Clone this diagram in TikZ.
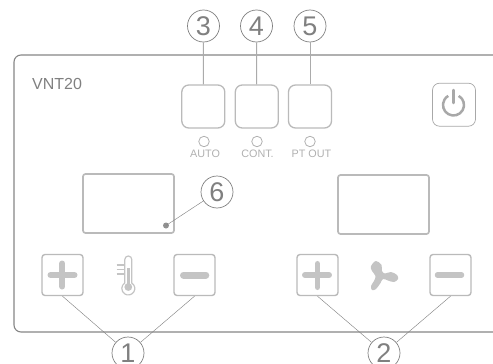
\documentclass[tikz,border=0pt]{standalone}
\usepackage{fontspec}
\setmainfont{Liberation Sans}
\definecolor{panelc}{HTML}{858585}
\definecolor{btnc}{HTML}{BABABA}
\definecolor{numc}{HTML}{808080}
\definecolor{leadc}{HTML}{ABABAB}
\definecolor{iconc}{HTML}{C4C4C4}
\definecolor{labc}{HTML}{B0B0B0}
\definecolor{powc}{HTML}{A8A8A8}
\tikzset{
  callout/.style={circle,draw=numc,line width=0.7pt,fill=white,minimum size=32pt,inner sep=0pt,text=numc,font=\fontsize{27}{27}\selectfont},
  softkey/.style={rectangle,rounded corners=7pt,draw=btnc,line width=1.3pt,minimum width=43pt,minimum height=43pt,inner sep=0pt},
  powerkey/.style={rectangle,rounded corners=7pt,draw=powc,line width=0.7pt,minimum width=43pt,minimum height=43pt,inner sep=0pt},
  display/.style={rectangle,rounded corners=2.5pt,draw=btnc,line width=1.7pt,minimum width=91pt,minimum height=59pt,inner sep=0pt},
  adjkey/.style={rectangle,rounded corners=3pt,draw=btnc,line width=1.4pt,minimum width=41pt,minimum height=41pt,inner sep=0pt},
  led/.style={circle,draw=labc,line width=0.8pt,minimum size=10.5pt,inner sep=0pt},
  ledtext/.style={text=labc,font=\fontsize{10.8}{10.8}\selectfont,inner sep=0pt},
  heavylead/.style={draw=leadc,line width=1pt},
  thinlead/.style={draw=panelc,line width=0.45pt},
  glyph/.style={draw=iconc,line width=6pt,line cap=round}
}
\begin{document}
\begin{tikzpicture}[x=1pt,y=-1pt]
\useasboundingbox (0,0) rectangle (493,364);
% panel
\draw[panelc,line width=1.1pt,rounded corners=7pt] (493,55) -- (14,55) -- (14,332) -- (493,332);
\node[text=numc,font=\fontsize{16}{16}\selectfont,inner sep=0pt,anchor=west] (title) at (32,83.5) {VNT20};
% keys
\node[softkey] (k3) at (203.3,106.5) {};
\node[softkey] (k4) at (256.8,106.5) {};
\node[softkey] (k5) at (310,106.5) {};
\node[powerkey] (pw) at (454,104.7) {};
\node[led] (l3) at (204,141.5) {};
\node[led] (l4) at (257,141.5) {};
\node[led] (l5) at (310,141.5) {};
\node[ledtext] (t3) at (205,153.7) {AUTO};
\node[ledtext] (t4) at (257.5,153.7) {CONT.};
\node[ledtext] (t5) at (311.5,153.7) {PT OUT};
% power symbol
\draw[powc,line width=2.5pt] (458.75,95.9) arc[start angle=-60,end angle=240,radius=10.5];
\draw[powc,line width=2.5pt,line cap=round] (453.5,90) -- (453.5,103);
% displays
\node[display] (d1) at (128.5,203.5) {};
\node[display] (d2) at (383.5,204.5) {};
% adjust keys
\node[adjkey] (p1) at (62.5,275) {};
\node[adjkey] (m1) at (194.5,275) {};
\node[adjkey] (p2) at (317.5,275) {};
\node[adjkey] (m2) at (450.5,275) {};
\draw[glyph] (50.5,275) -- (74.5,275) (62.3,263.5) -- (62.3,286.5);
\draw[glyph,line width=7pt] (183.5,275) -- (205.8,275);
\draw[glyph,line width=5.5pt] (304.8,275) -- (329.2,275) (317.5,263.7) -- (317.5,287.3);
\draw[glyph,line width=5.5pt] (437.5,275) -- (461.5,275);
% thermometer
\draw[iconc,line width=1.2pt] (124.8,283) -- (124.8,259.5) arc[start angle=180,end angle=360,radius=3.5] -- (131.8,283) arc[start angle=-57.4,end angle=237.4,radius=6.5];
\fill[iconc] (128.3,287) circle[radius=3.9];
\fill[iconc] (127.1,268) rectangle (129.5,287);
\draw[iconc,line width=1.1pt] (116.5,265) -- (123.5,265) (116.5,269.5) -- (123.5,269.5) (116.5,274) -- (123.5,274);
% fan
\fill[iconc] plot[smooth cycle,tension=0.6] coordinates {(371,266) (376,261) (381.5,265) (382,271) (385,273.5) (391,272) (397,275) (398,279) (394,282) (388,280.5) (383,279) (380.5,283) (376,289) (372,290) (371,286) (374,281) (375.5,276) (372,271)};
% callouts
\node[callout] (c3) at (203.5,26) {3};
\node[callout] (c4) at (256.5,26) {4};
\node[callout] (c5) at (310,26) {5};
\node[callout] (c1) at (128,353) {1};
\node[callout] (c2) at (384,353) {2};
\node[callout] (c6) at (217,192) {6};
\coordinate (dot) at (166,225.5);
\fill[panelc!90] (dot) circle[radius=3];
\draw[heavylead] (c3) -- (k3);
\draw[heavylead] (c4) -- (k4);
\draw[heavylead] (c5) -- (k5);
\draw[thinlead] (c6) -- (dot);
\draw[thinlead] (p1.south) -- (c1);
\draw[thinlead] (m1.south) -- (c1);
\draw[thinlead] (p2.south) -- (c2);
\draw[thinlead] (m2.south) -- (c2);
\end{tikzpicture}
\end{document}
